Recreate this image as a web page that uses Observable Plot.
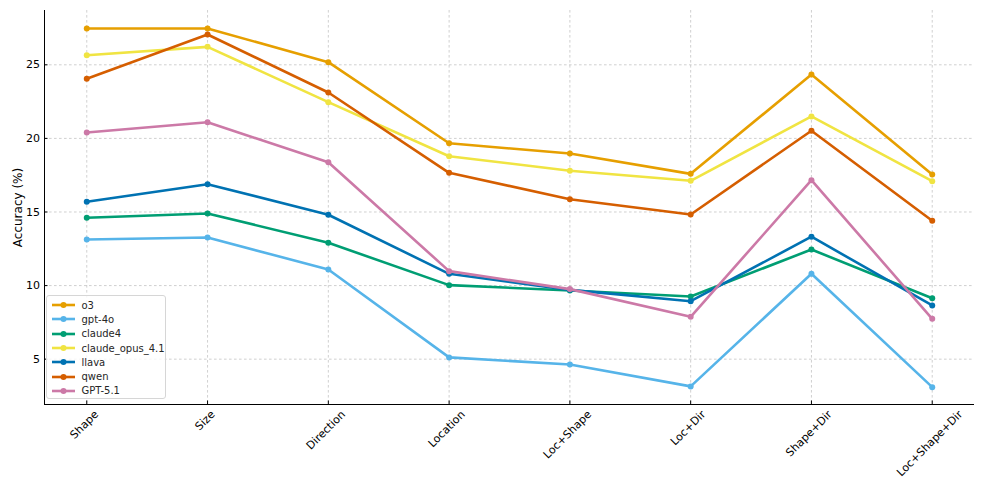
<!DOCTYPE html>
<html><head><meta charset="utf-8">
<script src="https://cdn.jsdelivr.net/npm/d3@7"></script>
<script src="https://cdn.jsdelivr.net/npm/@observablehq/plot@0.6"></script>
<style>
body{margin:0;background:#fff;font-family:"DejaVu Sans",sans-serif;}
#wrap{position:relative;width:987px;height:493px;overflow:hidden;}
#legend{position:absolute;left:46px;top:295px;width:120px;height:104px;box-sizing:border-box;border:1px solid #d6d6d6;border-radius:3px;background:rgba(255,255,255,0.8);padding:2px 0 0 4px;font-size:10px;color:#262626;}
.row{display:flex;align-items:center;height:14.3px;white-space:nowrap;}
.row svg{width:25px;height:10px;margin-right:5.5px;flex:none;}
</style></head><body><div id="wrap"></div>
<script>
const categories = ["Shape","Size","Direction","Location","Loc+Shape","Loc+Dir","Shape+Dir","Loc+Shape+Dir"];
const models = ["o3","gpt-4o","claude4","claude_opus_4.1","llava","qwen","GPT-5.1"];
const colors = ["#E69F00","#56B4E9","#009E73","#F0E442","#0072B2","#D55E00","#CC79A7"];
const o3 =          [27.47,27.47,25.18,19.67,18.97,17.59,24.34,17.55];
const gpt4o =       [13.13,13.27,11.09, 5.12, 4.64, 3.15,10.80, 3.10];
const claude4 =     [14.61,14.90,12.91,10.03, 9.67, 9.26,12.45, 9.14];
const claudeOpus =  [25.65,26.22,22.46,18.79,17.80,17.12,21.49,17.09];
const llava =       [15.69,16.89,14.81,10.80, 9.71, 8.94,13.32, 8.65];
const qwen =        [24.05,27.06,23.12,17.66,15.87,14.83,20.52,14.40];
const gpt51 =       [20.40,21.10,18.38,10.98, 9.76, 7.88,17.16, 7.74];
const seriesValues = [o3, gpt4o, claude4, claudeOpus, llava, qwen, gpt51];
const yTicks = [5,10,15,20,25];
const yDomain = [1.92, 28.69];
const yLabel = "Accuracy (%)";
const xPad = 0.35;

const rows = models.flatMap((m, k) => seriesValues[k].map((v, i) => ({model: m, cat: categories[i], i, value: v})));

const canvas = document.createElement("canvas");
const ctx = canvas.getContext("2d");
ctx.font = "11px 'DejaVu Sans'";
const lineH = 12.8;

const gridStyle = {stroke: "#b0b0b0", strokeOpacity: 0.75, strokeWidth: 0.8, strokeDasharray: "2.6,2.4"};

const marks = [
  Plot.gridY(yTicks, gridStyle),
  Plot.gridX(d3.range(categories.length), gridStyle),
  Plot.axisY(yTicks, {anchor: "left", tickSize: 0, tickPadding: 4.5, fontSize: 11, label: null}),
  Plot.axisY(yTicks, {anchor: "left", tickSize: 3.5, dx: 3.5, tickFormat: () => "", label: null}),
  Plot.axisX(d3.range(categories.length), {anchor: "bottom", tickSize: 3.5, dy: -3.5, tickFormat: () => "", label: null}),
  Plot.text([yLabel], {frameAnchor: "left", text: d => d, rotate: -90, textAnchor: "middle", fontSize: 12, fill: "black", dx: -26.5}),
  ...categories.map((c, i) => {
    const L = ctx.measureText(c).width;
    return Plot.text([c], {x: () => i, frameAnchor: "bottom", text: d => d, rotate: -45, textAnchor: "middle", fontSize: 11, fill: "black", dy: 6 + (L + lineH) * 0.7071 / 2});
  }),
  ...models.flatMap((m, k) => {
    const d = rows.filter(r => r.model === m);
    return [
      Plot.line(d, {x: "i", y: "value", stroke: colors[k], strokeWidth: 2.6}),
      Plot.dot(d, {x: "i", y: "value", fill: colors[k], r: 3, stroke: "none"})
    ];
  }),
  Plot.ruleY([yDomain[0]], {stroke: "black", strokeWidth: 1}),
  Plot.ruleX([-xPad], {stroke: "black", strokeWidth: 1})
];

const chart = Plot.plot({
  width: 987, height: 493,
  marginLeft: 44, marginRight: 13, marginTop: 10, marginBottom: 89,
  style: {fontFamily: "DejaVu Sans", fontSize: "11px", color: "black", background: "white"},
  x: {type: "linear", domain: [-xPad, categories.length - 1 + xPad], axis: null},
  y: {domain: yDomain, axis: null},
  marks
});
const wrap = document.getElementById("wrap");
wrap.appendChild(chart);

const legend = document.createElement("div");
legend.id = "legend";
models.forEach((m, k) => {
  const row = document.createElement("div");
  row.className = "row";
  row.innerHTML = `<svg viewBox="0 0 25 10"><line x1="1" y1="5" x2="24" y2="5" stroke="${colors[k]}" stroke-width="2.6"/><circle cx="12.5" cy="5" r="3" fill="${colors[k]}"/></svg><span>${m}</span>`;
  legend.appendChild(row);
});
wrap.appendChild(legend);
</script></body></html>
